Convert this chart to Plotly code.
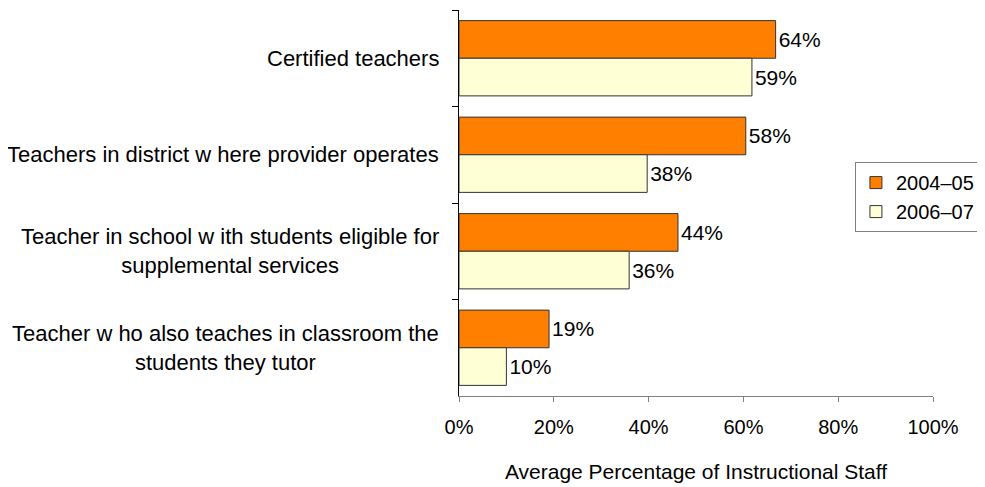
import plotly.graph_objects as go

categories = [
    "Certified teachers",
    "Teachers in district w here provider operates",
    "Teacher in school w ith students eligible for<br>supplemental services",
    "Teacher w ho also teaches in classroom the<br>students they tutor",
]
series_names = ["2004–05", "2006–07"]
values_2004 = [66.8, 60.5, 46.2, 19.0]
values_2006 = [61.8, 39.7, 35.9, 10.0]
labels_2004 = ["64%", "58%", "44%", "19%"]
labels_2006 = ["59%", "38%", "36%", "10%"]
x_ticks = [0, 20, 40, 60, 80, 100]
x_tick_text = ["0%", "20%", "40%", "60%", "80%", "100%"]

FONT = "Liberation Sans, Arial, sans-serif"
cat_ids = [f"c{i}" for i in range(len(categories))]

fig = go.Figure()
fig.add_trace(go.Bar(
    y=cat_ids, x=values_2004, orientation="h", name=series_names[0],
    marker=dict(color="#FF8000", line=dict(color="#333333", width=1)),
    text=labels_2004, textposition="outside", cliponaxis=False,
    textfont=dict(size=21, color="black", family=FONT), legendgroup="a",
))
fig.add_trace(go.Bar(
    y=cat_ids, x=values_2006, orientation="h", name=series_names[1],
    marker=dict(color="#FFFFD5", line=dict(color="#333333", width=1)),
    text=labels_2006, textposition="outside", cliponaxis=False,
    textfont=dict(size=21, color="black", family=FONT), legendgroup="b",
))

for cid, cat in zip(cat_ids, categories):
    fig.add_annotation(
        x=-0.038, xref="paper", y=cid, yref="y", text=cat, showarrow=False,
        xanchor="right", yanchor="middle", align="center",
        font=dict(size=22, color="black", family=FONT),
    )

fig.update_layout(
    width=985, height=479,
    margin=dict(l=451, r=60, t=2, b=91),
    paper_bgcolor="white", plot_bgcolor="white",
    barmode="group", bargap=0.22, bargroupgap=0,
    font=dict(family=FONT, size=20, color="black"),
    showlegend=True,
    legend=dict(
        x=1.099, y=0.606, xanchor="right", yanchor="top",
        bordercolor="#808080", borderwidth=1, bgcolor="white",
        font=dict(size=20, family=FONT), traceorder="normal",
        tracegroupgap=3, itemwidth=30,
    ),
)
fig.update_xaxes(
    range=[0, 100], tickvals=x_ticks, ticktext=x_tick_text,
    showgrid=False, zeroline=False, showline=True, linecolor="#808080",
    ticks="outside", ticklen=5, tickcolor="#808080",
    tickfont=dict(size=20, family=FONT), ticklabelstandoff=8,
    title=dict(text="Average Percentage of Instructional Staff", standoff=27,
               font=dict(size=21, family=FONT)),
)
fig.update_yaxes(
    autorange="reversed", showticklabels=False, showgrid=False,
    showline=True, linecolor="black", ticks="outside", ticklen=6,
    tickcolor="black", tickson="boundaries",
)

fig.write_html("out.html")
